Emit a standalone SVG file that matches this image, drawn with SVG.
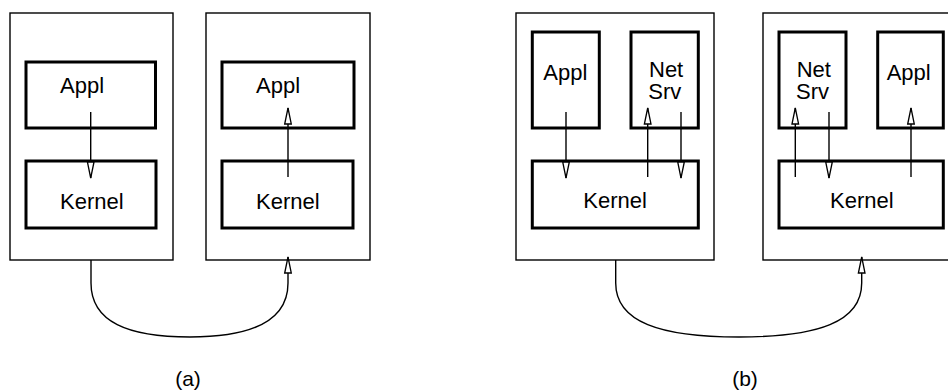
<svg xmlns="http://www.w3.org/2000/svg" width="948" height="392" viewBox="0 0 948 392">
<style>
.outer{fill:#fff;stroke:#000;stroke-width:1.4}
.inner{fill:#fff;stroke:#000;stroke-width:3}
.lbl{font-family:"Liberation Sans",Arial,sans-serif;font-size:22px;fill:#000}
.cap{font-family:"Liberation Sans",Arial,sans-serif;font-size:21px;fill:#000;text-anchor:middle}
.conn{fill:none;stroke:#000;stroke-width:1.4}
</style>
<defs>
<marker id="ah" markerUnits="userSpaceOnUse" markerWidth="20" markerHeight="10" viewBox="-1 -5 19 10" refX="16" refY="0" orient="auto">
<path d="M0,-3.3 L16,0 L0,3.3 Z" fill="#fff" stroke="#000" stroke-width="1.3"/>
</marker>
</defs>
<rect width="948" height="392" fill="#fff"/>
<g id="host-a1">
<rect class="outer" x="10" y="13" width="163" height="247"/>
</g>
<g id="host-a2">
<rect class="outer" x="206" y="13" width="164" height="247"/>
</g>
<g id="host-b1">
<rect class="outer" x="516" y="13" width="198" height="247"/>
</g>
<g id="host-b2">
<rect class="outer" x="763" y="13" width="200" height="247"/>
</g>
<g id="a1-appl"><rect class="inner" x="26" y="62" width="129.5" height="66"/><text class="lbl" x="60" y="93">Appl</text></g>
<g id="a1-kernel"><rect class="inner" x="26" y="161" width="130" height="67"/><text class="lbl" x="60" y="209">Kernel</text></g>
<g id="a2-appl"><rect class="inner" x="222" y="62" width="132" height="66"/><text class="lbl" x="256" y="93">Appl</text></g>
<g id="a2-kernel"><rect class="inner" x="222" y="161" width="131" height="67"/><text class="lbl" x="256" y="209">Kernel</text></g>
<g id="b1-appl"><rect class="inner" x="532.3" y="32" width="67" height="96"/><text class="lbl" x="543.3" y="80">Appl</text></g>
<g id="b1-netsrv"><rect class="inner" x="631" y="32" width="67.3" height="96"/><text class="lbl"><tspan x="649" y="77.3">Net</tspan><tspan x="648.3" y="99.3">Srv</tspan></text></g>
<g id="b1-kernel"><rect class="inner" x="532.3" y="161" width="166" height="67"/><text class="lbl" x="583.3" y="208.3">Kernel</text></g>
<g id="b2-netsrv"><rect class="inner" x="779" y="32" width="67" height="96"/><text class="lbl"><tspan x="796.7" y="77.3">Net</tspan><tspan x="796" y="99.3">Srv</tspan></text></g>
<g id="b2-appl"><rect class="inner" x="877.7" y="32" width="65.6" height="96"/><text class="lbl" x="886.7" y="80">Appl</text></g>
<g id="b2-kernel"><rect class="inner" x="779" y="161" width="164.3" height="67"/><text class="lbl" x="830" y="208.3">Kernel</text></g>
<g id="connectors">
<line class="conn" x1="90.7" y1="112" x2="90.7" y2="178" marker-end="url(#ah)"/>
<line class="conn" x1="288" y1="177" x2="288" y2="108" marker-end="url(#ah)"/>
<path class="conn" d="M91 260 V283 C91 322 128 337 190 337 C250 337 288 322 288 283 V257" marker-end="url(#ah)"/>
<line class="conn" x1="566" y1="112" x2="566" y2="178" marker-end="url(#ah)"/>
<line class="conn" x1="647.7" y1="177" x2="647.7" y2="108" marker-end="url(#ah)"/>
<line class="conn" x1="681" y1="112" x2="681" y2="178" marker-end="url(#ah)"/>
<line class="conn" x1="795.3" y1="177" x2="795.3" y2="108" marker-end="url(#ah)"/>
<line class="conn" x1="829" y1="112" x2="829" y2="178" marker-end="url(#ah)"/>
<line class="conn" x1="911" y1="177" x2="911" y2="108" marker-end="url(#ah)"/>
<path class="conn" d="M615.7 260 V283 C615.7 322 660 337 739 337 C818 337 861.7 322 861.7 283 V257" marker-end="url(#ah)"/>
</g>
<text class="cap" x="188" y="386">(a)</text>
<text class="cap" x="745" y="386">(b)</text>
</svg>
